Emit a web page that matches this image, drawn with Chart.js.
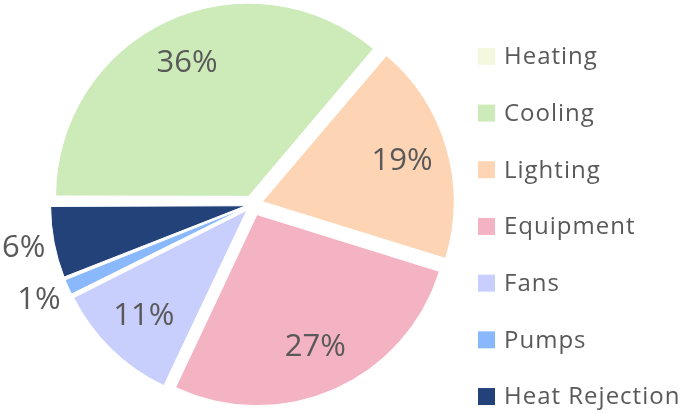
<!DOCTYPE html>
<html>
<head>
<meta charset="utf-8">
<script src="https://cdn.jsdelivr.net/npm/chart.js@4/dist/chart.umd.min.js"></script>
<style>
  body { margin: 0; background: #fff; }
  canvas { display: block; }
</style>
</head>
<body>
<canvas id="chart1" width="685" height="413"></canvas>
<script>
const endUses = ["Heating", "Cooling", "Lighting", "Equipment", "Fans", "Pumps", "Heat Rejection"];
const shares = [0, 36.2, 18.6, 27.2, 10.6, 1.4, 6.0];
const sliceColors = ['#f3f8df', '#cdeab9', '#fed5b4', '#f4b3c2', '#c8cffd', '#8ab8fc', '#23427a'];
// exploded look (chart.js moves an arc by offset/4)
const sliceOffsets = [0, 36, 41, 44, 32, 23, 27];

const textGrey = '#595959';

// percent labels, inside for big slices, outside for the small ones
const pctLabels = {
    id: 'pctLabels',
    afterDatasetsDraw(chart) {
        const ctx = chart.ctx;
        const meta = chart.getDatasetMeta(0);
        const vals = chart.data.datasets[0].data;
        const total = vals.reduce((a, b) => a + b, 0);
        ctx.save();
        ctx.font = '31px "Open Sans"';
        ctx.fillStyle = textGrey;
        ctx.textAlign = 'center';
        ctx.textBaseline = 'middle';
        meta.data.forEach((arc, i) => {
            const v = vals[i];
            if (!v) return;
            const pct = Math.round(v / total * 100);
            const mid = (arc.startAngle + arc.endAngle) / 2;
            const inside = pct >= 10;
            const r = arc.outerRadius * (inside ? 0.815 : 1.225);
            const txt = pct + '%';
            const w = ctx.measureText(txt).width;
            let x = arc.x + Math.cos(mid) * r;
            const y = arc.y + Math.sin(mid) * r;
            x = Math.max(x, 2 + w / 2);
            ctx.fillText(txt, x, y);
        });
        ctx.restore();
    }
};

// legend drawn on the right, one row per end use
const sideLegend = {
    id: 'sideLegend',
    afterDraw(chart) {
        const ctx = chart.ctx;
        const labels = chart.data.labels;
        const colors = chart.data.datasets[0].backgroundColor;
        const left = 478, top = 28, rowH = 56.7, box = 17;
        ctx.save();
        ctx.font = '24px "Open Sans"';
        ctx.letterSpacing = '1px';
        ctx.textBaseline = 'middle';
        ctx.textAlign = 'left';
        labels.forEach((lab, i) => {
            const cy = top + rowH * (i + 0.5);
            ctx.fillStyle = colors[i];
            ctx.fillRect(left, cy - box / 2, box, box);
            ctx.fillStyle = textGrey;
            ctx.fillText(lab, left + box + 9, cy + 1);
        });
        ctx.restore();
    }
};

new Chart("chart1", {
    type: "pie",
    data: {
        labels: endUses,
        datasets: [{
            data: shares,
            backgroundColor: sliceColors,
            borderColor: '#fff',
            borderWidth: 1,
            offset: sliceOffsets
        }]
    },
    options: {
        responsive: false,
        animation: false,
        devicePixelRatio: 1,
        events: [],
        rotation: 270,
        radius: 191,
        layout: { padding: { left: 0, right: 180, top: 0, bottom: 4 } },
        plugins: {
            legend: { display: false },
            tooltip: { enabled: false }
        }
    },
    plugins: [pctLabels, sideLegend]
});
</script>
</body>
</html>
